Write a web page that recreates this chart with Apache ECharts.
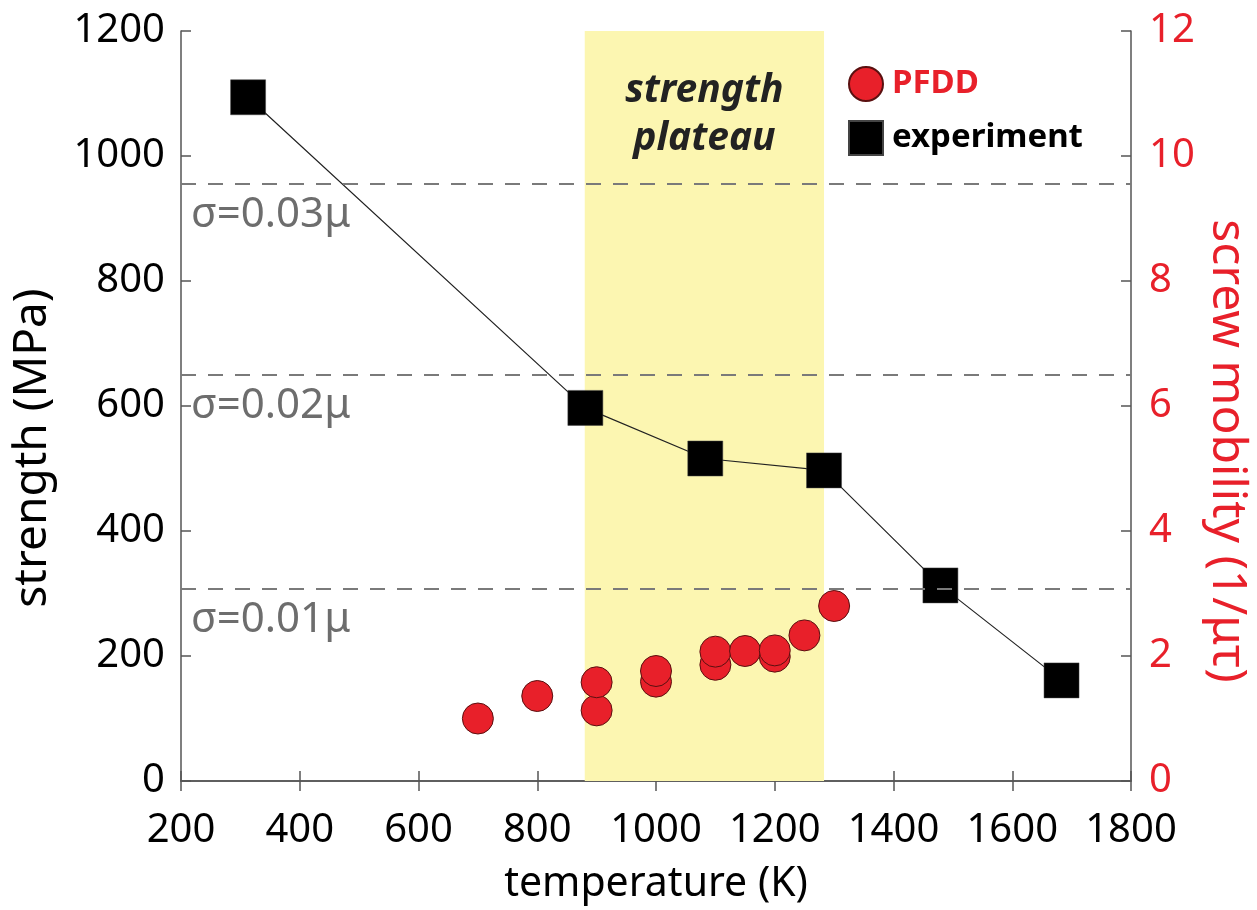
<!DOCTYPE html>
<html>
<head>
<meta charset="utf-8">
<script src="https://cdn.jsdelivr.net/npm/echarts@6/dist/echarts.min.js"></script>
<style>
html,body{margin:0;padding:0;background:#fff;}
#chart{width:1257px;height:910px;}
</style>
</head>
<body>
<div id="chart"></div>
<script>
// ---- data ----
const expTemps = [313, 881, 1083, 1283, 1479, 1683];
const expStrength = [1094, 597, 516, 497, 313, 161];
const pfddTemps = [700, 800, 900, 900, 1000, 1000, 1100, 1100, 1150, 1200, 1200, 1250, 1300];
const pfddMobility = [1.0, 1.36, 1.13, 1.58, 1.59, 1.76, 1.86, 2.07, 2.08, 1.99, 2.09, 2.33, 2.8];
const plateauRange = [880, 1283];
const sigmaValues = [955, 650, 307];
const sigmaLabels = ['σ=0.03μ', 'σ=0.02μ', 'σ=0.01μ'];
const xTicks = {min: 200, max: 1800, interval: 200};
const yLeftTicks = {min: 0, max: 1200, interval: 200};
const yRightTicks = {min: 0, max: 12, interval: 2};

const RED = '#e8202a';
const FONT = 'Noto Sans';
const AXIS_COLOR = '#555';

const chart = echarts.init(document.getElementById('chart'), null, {renderer: 'canvas'});

const axisLineStyle = {show: true, lineStyle: {color: AXIS_COLOR, width: 1.5}};
const tickStyle = {show: true, inside: true, length: 10, lineStyle: {color: AXIS_COLOR, width: 1.5}};
const plain = v => String(v);

const option = {
  backgroundColor: '#fff',
  animation: false,
  grid: {left: 181, right: 126, top: 31, bottom: 129, containLabel: false},
  legend: {
    orient: 'vertical', left: 848, top: 66,
    itemWidth: 34, itemHeight: 34, itemGap: 18,
    padding: 0,
    textStyle: {fontFamily: FONT, fontSize: 33, fontWeight: 'bold', padding: [0, 0, 0, 4]},
    data: [
      {name: 'PFDD', icon: 'circle', textStyle: {color: RED}},
      {name: 'experiment', icon: 'rect', textStyle: {color: '#000'}}
    ]
  },
  xAxis: [
    {
      type: 'value', position: 'bottom',
      min: xTicks.min, max: xTicks.max, interval: xTicks.interval,
      axisLine: axisLineStyle, axisTick: tickStyle, splitLine: {show: false},
      axisLabel: {color: '#000', fontFamily: FONT, fontSize: 40, margin: 30, formatter: plain}
    },
    {
      type: 'value', position: 'top',
      min: xTicks.min, max: xTicks.max, interval: xTicks.interval,
      axisLine: axisLineStyle, axisTick: tickStyle, splitLine: {show: false},
      axisLabel: {show: false}
    }
  ],
  yAxis: [
    {
      type: 'value', position: 'left',
      min: yLeftTicks.min, max: yLeftTicks.max, interval: yLeftTicks.interval,
      axisLine: axisLineStyle, axisTick: tickStyle, splitLine: {show: false},
      axisLabel: {color: '#000', fontFamily: FONT, fontSize: 40, margin: 16, formatter: plain}
    },
    {
      type: 'value', position: 'right',
      min: yRightTicks.min, max: yRightTicks.max, interval: yRightTicks.interval,
      axisLine: axisLineStyle, axisTick: tickStyle, splitLine: {show: false},
      axisLabel: {color: RED, fontFamily: FONT, fontSize: 40, margin: 18, formatter: plain}
    }
  ],
  graphic: [
    {
      type: 'text', x: 33, y: 448, rotation: Math.PI / 2,
      style: {text: 'strength (MPa)', fill: '#000', font: '46px "Noto Sans"', textAlign: 'center', textVerticalAlign: 'middle'}
    },
    {
      type: 'text', x: 1227, y: 451, rotation: -Math.PI / 2,
      style: {text: 'screw mobility (1/μτ)', fill: RED, font: '48px "Noto Sans"', textAlign: 'center', textVerticalAlign: 'middle'}
    },
    {
      type: 'text', x: 656, y: 884,
      style: {text: 'temperature (K)', fill: '#000', font: '41px "Noto Sans"', textAlign: 'center', textVerticalAlign: 'middle'}
    }
  ],
  series: [
    {
      name: 'experiment', type: 'line', xAxisIndex: 0, yAxisIndex: 0,
      data: expTemps.map((t, i) => [t, expStrength[i]]),
      symbol: 'rect', symbolSize: 35,
      itemStyle: {color: '#000', borderColor: '#444', borderWidth: 0.5},
      lineStyle: {color: '#222', width: 1.2},
      z: 3,
      markArea: {
        silent: true,
        itemStyle: {color: '#fcf6b1'},
        label: {
          show: true, position: 'insideTop', distance: 36,
          formatter: 'strength\nplateau',
          color: '#222', fontFamily: FONT, fontSize: 39, fontWeight: 'bold', fontStyle: 'italic', lineHeight: 48
        },
        data: [[{xAxis: plateauRange[0]}, {xAxis: plateauRange[1]}]]
      },
      markLine: {
        silent: true, symbol: ['none', 'none'],
        lineStyle: {color: '#7a7a7a', type: [15, 12], width: 2},
        label: {
          show: true, position: 'insideStartBottom', distance: [10, 10],
          color: '#6d6d6d', fontFamily: FONT, fontSize: 42
        },
        data: sigmaValues.map((v, i) => ({yAxis: v, label: {formatter: sigmaLabels[i]}}))
      }
    },
    {
      name: 'PFDD', type: 'scatter', xAxisIndex: 0, yAxisIndex: 1,
      data: pfddTemps.map((t, i) => [t, pfddMobility[i]]),
      symbol: 'circle', symbolSize: 31,
      itemStyle: {color: RED, borderColor: '#5a1010', borderWidth: 1, opacity: 1},
      z: 4
    }
  ]
};
chart.setOption(option);
</script>
</body>
</html>
